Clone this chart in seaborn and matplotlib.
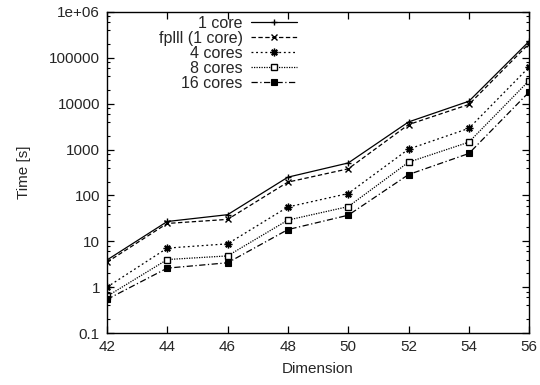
import matplotlib
matplotlib.use("Agg")
import matplotlib.pyplot as plt
import seaborn as sns
import pandas as pd
from matplotlib.ticker import LogLocator, NullFormatter, FixedLocator

dims = [42, 44, 46, 48, 50, 52, 54, 56]
series_names = ["1 core", "fplll (1 core)", "4 cores", "8 cores", "16 cores"]
t_1core = [3.9, 27, 38, 250, 510, 4000, 11300, 230000]
t_fplll = [3.5, 24.5, 30, 195, 380, 3500, 9600, 205000]
t_4cores = [1.0, 7.1, 8.8, 56, 110, 1020, 2900, 63000]
t_8cores = [0.63, 4.0, 4.8, 29, 57, 530, 1450, 32000]
t_16cores = [0.54, 2.6, 3.4, 18, 37, 285, 820, 18000]
y_ticks = [0.1, 1, 10, 100, 1000, 10000, 100000, 1000000]
y_tick_labels = ["0.1", "1", "10", "100", "1000", "10000", "100000", "1e+06"]

values = [t_1core, t_fplll, t_4cores, t_8cores, t_16cores]
df = pd.DataFrame({
    "Dimension": dims * len(series_names),
    "Time": [v for vals in values for v in vals],
    "series": [n for n in series_names for _ in dims],
})

sns.set_style("ticks")
plt.rcParams['font.family'] = ['Liberation Sans', 'DejaVu Sans']
plt.rcParams['font.size'] = 11

fig = plt.figure(figsize=(5.4, 3.85), dpi=100)
ax = fig.add_axes([0.198, 0.135, 0.782, 0.834])

styles = {
    "1 core": dict(linestyle="-", marker="+", ms=5, mfc="black", mew=1.0),
    "fplll (1 core)": dict(linestyle=(0, (3.5, 2)), marker="x", ms=4.5, mfc="black", mew=1.0),
    "4 cores": dict(linestyle=(0, (1.5, 2.2)), marker=(8, 2, 0), ms=5.5, mfc="black", mew=1.0),
    "8 cores": dict(linestyle=(0, (1, 1)), marker="s", ms=5, mfc="white", mew=1.0),
    "16 cores": dict(linestyle=(0, (5, 2, 1, 2)), marker="s", ms=5, mfc="black", mew=0.8),
}

for name in series_names:
    st = styles[name]
    sns.lineplot(data=df[df["series"] == name], x="Dimension", y="Time", ax=ax,
                 color="black", lw=0.9, label=name, linestyle=st["linestyle"],
                 marker=st["marker"], markersize=st["ms"], markerfacecolor=st["mfc"],
                 markeredgecolor="black", markeredgewidth=st["mew"])

ax.set_yscale("log")
ax.set_ylim(0.1, 1e6)
ax.set_xlim(42, 56)
ax.xaxis.set_major_locator(FixedLocator(dims))
ax.set_xticklabels([str(d) for d in dims])
ax.yaxis.set_major_locator(FixedLocator(y_ticks))
ax.set_yticklabels(y_tick_labels)
ax.yaxis.set_minor_locator(LogLocator(base=10, subs=[2, 4, 6, 8], numticks=20))
ax.yaxis.set_minor_formatter(NullFormatter())
ax.tick_params(which="both", direction="in", top=True, right=True, color="black")
ax.tick_params(which="major", length=5, width=0.9, labelsize=11, pad=5)
ax.tick_params(which="minor", length=2.5, width=0.8)
for sp in ax.spines.values():
    sp.set_linewidth(1.0)
    sp.set_color("black")

ax.set_xlabel("Dimension", fontsize=11, labelpad=6)
ax.set_ylabel("Time [s]", fontsize=11, labelpad=13)

leg = ax.legend(loc="upper right", bbox_to_anchor=(0.469, 1.012), frameon=False,
                markerfirst=False, handlelength=2.9, handletextpad=0.5,
                labelspacing=0.0, borderpad=0.0, fontsize=11.5)

fig.savefig("out.png", dpi=100)
